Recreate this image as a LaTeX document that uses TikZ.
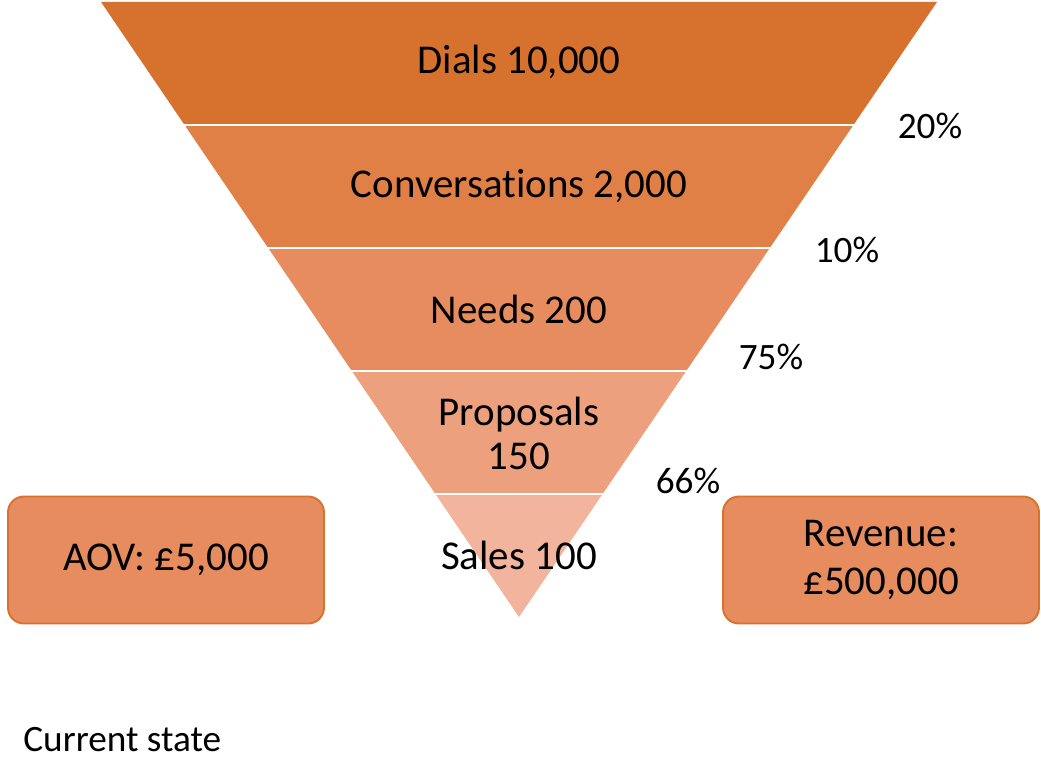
\documentclass[tikz,border=0pt]{standalone}
\usepackage{fontspec}
\setmainfont{Carlito}[Ligatures=NoCommon]
\definecolor{bandA}{HTML}{D7712E}
\definecolor{bandB}{HTML}{E07F46}
\definecolor{bandC}{HTML}{E68C5F}
\definecolor{bandD}{HTML}{EDA07E}
\definecolor{bandE}{HTML}{F2B49C}
\definecolor{boxline}{HTML}{D9712F}
\begin{document}
\begin{tikzpicture}[x=0.02cm, y=-0.02cm,
  lbl/.style={font=\fontsize{23.3}{25}\selectfont, align=center, inner sep=0pt},
  pct/.style={font=\fontsize{21.2}{25}\selectfont, inner sep=0pt},
  infobox/.style={draw=boxline, line width=1.1pt, fill=bandC, rounded corners=9pt,
    minimum width=6.32cm, minimum height=2.54cm, font=\fontsize{23.3}{27.5}\selectfont, align=center}]
\useasboundingbox (0,0) rectangle (1041,784);
% funnel bands
\fill[bandA] (101,2) -- (937,2) -- (853.4,125) -- (184.6,125) -- cycle;
\fill[bandB] (184.6,125) -- (853.4,125) -- (769.8,248) -- (268.2,248) -- cycle;
\fill[bandC] (268.2,248) -- (769.8,248) -- (686.2,371) -- (351.8,371) -- cycle;
\fill[bandD] (351.8,371) -- (686.2,371) -- (602.6,494) -- (435.4,494) -- cycle;
\fill[bandE] (435.4,494) -- (602.6,494) -- (519,617) -- cycle;
\foreach \yy/\xl/\xr in {125/184.6/853.4, 248/268.2/769.8, 371/351.8/686.2, 494/435.4/602.6}
  \draw[white, line width=1.6pt] (\xl-1,\yy) -- (\xr+1,\yy);
% labels
\node[lbl] (dials) at (519,62) {Dials 10,000};
\node[lbl] (conv) at (519,186) {Conversations 2,000};
\node[lbl] (needs) at (519,309) {Needs 200};
\node[lbl] (prop) at (519,433) {Proposals\\150};
\node[lbl] (sales) at (519,555) {Sales 100};
\node[pct] (p20) at (930,126) {20\%};
\node[pct] (p10) at (847,250) {10\%};
\node[pct] (p75) at (771,357) {75\%};
\node[pct] (p66) at (688,481) {66\%};
% side boxes
\node[infobox] (aov) at (166,560) {AOV: £5,000};
\node[infobox] (rev) at (881,560) {Revenue:\\£500,000};
\node[pct, anchor=west] (state) at (23,740) {Current state};
\end{tikzpicture}
\end{document}
